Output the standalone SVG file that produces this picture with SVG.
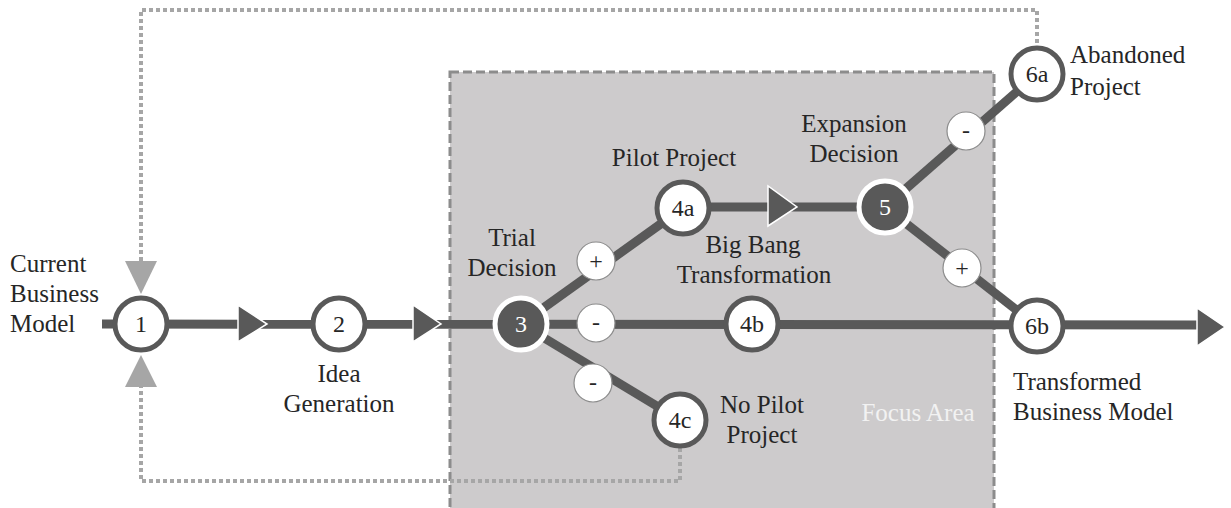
<svg xmlns="http://www.w3.org/2000/svg" width="1231" height="508" viewBox="0 0 1231 508">
  <style>
    text { font-family: 'Liberation Serif', 'DejaVu Serif', serif; }
    .lbl { font-size: 25px; fill: #262626; }
    .num { font-size: 24px; fill: #262626; text-anchor: middle; }
    .num-d { fill: #ffffff; }
    .sign { font-size: 24px; fill: #262626; text-anchor: middle; }
    .mid { text-anchor: middle; }
    .flow { stroke: #595959; stroke-width: 9; fill: none; }
    .loop { stroke: #a6a6a6; stroke-width: 4; stroke-dasharray: 4 3; fill: none; }
    .node { fill: #ffffff; stroke: #595959; stroke-width: 5; }
    .dnode { fill: #595959; stroke: #ffffff; stroke-width: 5; }
    .signc { fill: #ffffff; stroke: #8c8c8c; stroke-width: 1.2; }
    .head { fill: #595959; stroke: #ffffff; stroke-width: 1.5; }
    .lhead { fill: #a6a6a6; }
  </style>

  <!-- focus area -->
  <g id="focus-area">
    <rect x="450" y="72" width="544" height="460" fill="#cdcbcc" stroke="#8c8c8c" stroke-width="3" stroke-dasharray="9 4"/>
    <text class="lbl mid" x="918" y="421" style="fill:#f2f2f2">Focus Area</text>
  </g>

  <!-- connectors -->
  <g id="connectors">
    <!-- feedback loops back to the current model -->
    <polyline class="loop" points="1037,43 1037,10 141,10 141,262"/>
    <polyline class="loop" points="680,448 680,481 141,481 141,386"/>
    <polygon class="lhead" points="125,261 157,261 141,294"/>
    <polygon class="lhead" points="125,387 157,387 141,355"/>

    <!-- main flow -->
    <line class="flow" x1="102" y1="324" x2="1200" y2="325"/>
    <line class="flow" x1="521" y1="324" x2="683" y2="208"/>
    <line class="flow" x1="521" y1="324" x2="680" y2="420"/>
    <line class="flow" x1="683" y1="207" x2="885" y2="207"/>
    <line class="flow" x1="885" y1="207" x2="1037" y2="74"/>
    <line class="flow" x1="885" y1="207" x2="1037" y2="326"/>

    <!-- arrowheads -->
    <polygon class="head" points="238,305 238,342 267,324"/>
    <polygon class="head" points="413,305 413,342 441,324"/>
    <polygon class="head" points="768,186 768,226 797,207"/>
    <polygon class="head" points="1197,308 1197,346 1225,327"/>

    <!-- decision signs -->
    <circle class="signc" cx="596" cy="261" r="19"/>
    <text class="sign" x="596" y="269">+</text>
    <circle class="signc" cx="596" cy="323" r="19"/>
    <text class="sign" x="596" y="330">-</text>
    <circle class="signc" cx="593" cy="383" r="19"/>
    <text class="sign" x="593" y="390">-</text>
    <circle class="signc" cx="966" cy="131" r="19"/>
    <text class="sign" x="966" y="138">-</text>
    <circle class="signc" cx="962" cy="268" r="19"/>
    <text class="sign" x="962" y="276">+</text>
  </g>

  <!-- nodes -->
  <g id="n1">
    <circle class="node" cx="141" cy="324" r="26"/>
    <text class="num" x="141" y="332">1</text>
    <text class="lbl" x="10" y="272">Current</text>
    <text class="lbl" x="10" y="302">Business</text>
    <text class="lbl" x="10" y="332">Model</text>
  </g>
  <g id="n2">
    <circle class="node" cx="339" cy="324" r="26"/>
    <text class="num" x="339" y="332">2</text>
    <text class="lbl mid" x="339" y="382">Idea</text>
    <text class="lbl mid" x="339" y="412">Generation</text>
  </g>
  <g id="n3">
    <circle class="dnode" cx="521" cy="324" r="26"/>
    <text class="num num-d" x="521" y="332">3</text>
    <text class="lbl mid" x="512" y="246">Trial</text>
    <text class="lbl mid" x="512" y="276">Decision</text>
  </g>
  <g id="n4a">
    <circle class="node" cx="683" cy="208" r="26"/>
    <text class="num" x="683" y="216">4a</text>
    <text class="lbl mid" x="674" y="166">Pilot Project</text>
  </g>
  <g id="n4b">
    <circle class="node" cx="752" cy="324" r="26"/>
    <text class="num" x="752" y="332">4b</text>
    <text class="lbl mid" x="753" y="253">Big Bang</text>
    <text class="lbl mid" x="754" y="283">Transformation</text>
  </g>
  <g id="n4c">
    <circle class="node" cx="680" cy="420" r="26"/>
    <text class="num" x="680" y="428">4c</text>
    <text class="lbl mid" x="762" y="413">No Pilot</text>
    <text class="lbl mid" x="762" y="443">Project</text>
  </g>
  <g id="n5">
    <circle class="dnode" cx="885" cy="207" r="26"/>
    <text class="num num-d" x="885" y="215">5</text>
    <text class="lbl mid" x="854" y="132">Expansion</text>
    <text class="lbl mid" x="854" y="162">Decision</text>
  </g>
  <g id="n6a">
    <circle class="node" cx="1037" cy="74" r="26"/>
    <text class="num" x="1037" y="82">6a</text>
    <text class="lbl" x="1070" y="63">Abandoned</text>
    <text class="lbl" x="1070" y="95">Project</text>
  </g>
  <g id="n6b">
    <circle class="node" cx="1037" cy="326" r="26"/>
    <text class="num" x="1037" y="334">6b</text>
    <text class="lbl" x="1013" y="390">Transformed</text>
    <text class="lbl" x="1013" y="420">Business Model</text>
  </g>
</svg>
